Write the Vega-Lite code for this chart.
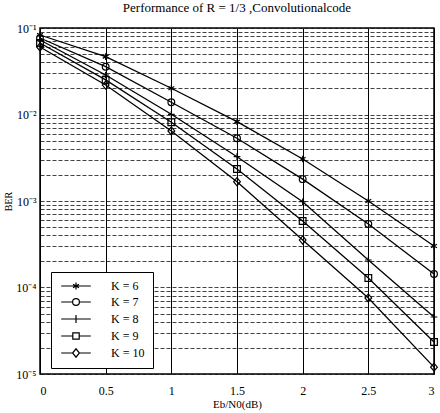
{
  "$schema": "https://vega.github.io/schema/vega-lite/v6.json",
  "width": 394,
  "height": 346,
  "autosize": {"type": "none"},
  "padding": {"left": 40, "top": 28, "right": 6, "bottom": 39},
  "background": "white",
  "config": {
    "view": {"stroke": "black", "strokeWidth": 1.5},
    "font": "Liberation Serif"
  },
  "title": {
    "text": "Performance of R = 1/3 ,Convolutionalcode",
    "fontSize": 13,
    "fontWeight": "normal",
    "font": "Liberation Serif",
    "color": "black",
    "offset": 7
  },
  "data": {
    "values": [
      {"ebn0": 0, "ber": 0.083, "code": "K = 6"},
      {"ebn0": 0.5, "ber": 0.0466, "code": "K = 6"},
      {"ebn0": 1, "ber": 0.0201, "code": "K = 6"},
      {"ebn0": 1.5, "ber": 0.00826, "code": "K = 6"},
      {"ebn0": 2, "ber": 0.00306, "code": "K = 6"},
      {"ebn0": 2.5, "ber": 0.001, "code": "K = 6"},
      {"ebn0": 3, "ber": 0.000302, "code": "K = 6"},
      {"ebn0": 0, "ber": 0.0766, "code": "K = 7"},
      {"ebn0": 0.5, "ber": 0.0357, "code": "K = 7"},
      {"ebn0": 1, "ber": 0.01384, "code": "K = 7"},
      {"ebn0": 1.5, "ber": 0.00531, "code": "K = 7"},
      {"ebn0": 2, "ber": 0.00179, "code": "K = 7"},
      {"ebn0": 2.5, "ber": 0.000542, "code": "K = 7"},
      {"ebn0": 3, "ber": 0.000143, "code": "K = 7"},
      {"ebn0": 0, "ber": 0.0727, "code": "K = 8"},
      {"ebn0": 0.5, "ber": 0.0286, "code": "K = 8"},
      {"ebn0": 1, "ber": 0.01005, "code": "K = 8"},
      {"ebn0": 1.5, "ber": 0.00325, "code": "K = 8"},
      {"ebn0": 2, "ber": 0.00098, "code": "K = 8"},
      {"ebn0": 2.5, "ber": 0.000208, "code": "K = 8"},
      {"ebn0": 3, "ber": 0.0000456, "code": "K = 8"},
      {"ebn0": 0, "ber": 0.0671, "code": "K = 9"},
      {"ebn0": 0.5, "ber": 0.0251, "code": "K = 9"},
      {"ebn0": 1, "ber": 0.00813, "code": "K = 9"},
      {"ebn0": 1.5, "ber": 0.00234, "code": "K = 9"},
      {"ebn0": 2, "ber": 0.000587, "code": "K = 9"},
      {"ebn0": 2.5, "ber": 0.000129, "code": "K = 9"},
      {"ebn0": 3, "ber": 0.0000234, "code": "K = 9"},
      {"ebn0": 0, "ber": 0.0603, "code": "K = 10"},
      {"ebn0": 0.5, "ber": 0.0219, "code": "K = 10"},
      {"ebn0": 1, "ber": 0.00645, "code": "K = 10"},
      {"ebn0": 1.5, "ber": 0.00167, "code": "K = 10"},
      {"ebn0": 2, "ber": 0.000354, "code": "K = 10"},
      {"ebn0": 2.5, "ber": 0.0000757, "code": "K = 10"},
      {"ebn0": 3, "ber": 0.000012, "code": "K = 10"}
    ]
  },
  "encoding": {
    "x": {
      "field": "ebn0",
      "type": "quantitative",
      "scale": {"domain": [0, 3], "nice": false, "zero": false},
      "axis": {
        "values": [0, 0.5, 1, 1.5, 2, 2.5, 3],
        "format": "~g",
        "grid": true,
        "gridColor": "black",
        "gridWidth": 1,
        "gridOpacity": 1,
        "domain": false,
        "ticks": false,
        "labelPadding": 11,
        "labelFontSize": 12,
        "labelColor": "black",
        "labelFont": "Liberation Serif",
        "title": "Eb/N0(dB)",
        "titleFont": "Liberation Serif",
        "titleFontSize": 11,
        "titleFontWeight": "normal",
        "titleColor": "black",
        "titlePadding": 2
      }
    },
    "y": {
      "field": "ber",
      "type": "quantitative",
      "scale": {"type": "log", "domain": [0.00001, 0.1], "nice": false},
      "axis": {
        "values": [0.00001, 0.00002, 0.00003, 0.00004, 0.00005, 0.00006, 0.00007, 0.00008, 0.00009, 0.0001, 0.0002, 0.0003, 0.0004, 0.0005, 0.0006, 0.0007, 0.0008, 0.0009, 0.001, 0.002, 0.003, 0.004, 0.005, 0.006, 0.007, 0.008, 0.009, 0.01, 0.02, 0.03, 0.04, 0.05, 0.06, 0.07, 0.08, 0.09, 0.1],
        "labelExpr": "datum.value > 0.095 ? '10⁻¹' : (abs(datum.value - 0.01) < 1e-9 ? '10⁻²' : (abs(datum.value - 0.001) < 1e-10 ? '10⁻³' : (abs(datum.value - 0.0001) < 1e-11 ? '10⁻⁴' : (abs(datum.value - 0.00001) < 1e-12 ? '10⁻⁵' : ''))))",
        "labelOverlap": false,
        "grid": true,
        "gridColor": "#111111",
        "gridDash": [4, 2],
        "gridWidth": 0.8,
        "gridOpacity": 1,
        "domain": false,
        "ticks": false,
        "labelPadding": 4,
        "labelFontSize": 12,
        "labelColor": "black",
        "labelFont": "Liberation Serif",
        "title": "BER",
        "titleFont": "Liberation Serif",
        "titleFontSize": 10,
        "titleFontWeight": "normal",
        "titleColor": "black",
        "titlePadding": 2
      }
    }
  },
  "layer": [
    {
      "mark": {"type": "line", "color": "black", "strokeWidth": 1.3},
      "encoding": {"detail": {"field": "code", "type": "nominal"}}
    },
    {
      "mark": {"type": "point", "color": "black", "filled": false, "size": 45, "strokeWidth": 1.2, "opacity": 1},
      "encoding": {
        "shape": {
          "field": "code",
          "type": "nominal",
          "scale": {
            "domain": ["K = 6", "K = 7", "K = 8", "K = 9", "K = 10"],
            "range": [
              "M0,-1V1M-0.87,-0.5L0.87,0.5M-0.87,0.5L0.87,-0.5",
              "circle",
              "M-1,0H1M0,-1V1",
              "square",
              "M-1,0L0,-1.2L1,0L0,1.2Z"
            ]
          },
          "legend": null
        }
      }
    },
    {
      "transform": [{"filter": "datum.ebn0 == 0"}],
      "mark": {"type": "point", "color": "black", "filled": false, "size": 64, "strokeWidth": 1.2, "opacity": 0},
      "encoding": {
        "shape": {
          "field": "code",
          "type": "nominal",
          "scale": {
            "domain": ["K = 6", "K = 7", "K = 8", "K = 9", "K = 10"],
            "range": [
              "M-3.7,0H3.7M0,-0.85V0.85M-0.74,-0.42L0.74,0.42M-0.74,0.42L0.74,-0.42",
              "M-3.7,0H-0.85M0.85,0H3.7M-0.85,0A0.85,0.85,0,1,1,0.85,0A0.85,0.85,0,1,1,-0.85,0",
              "M-3.7,0H3.7M0,-1V1",
              "M-3.7,0H-0.8M0.8,0H3.7M-0.8,-0.8H0.8V0.8H-0.8Z",
              "M-3.7,0H-0.85M0.85,0H3.7M-0.85,0L0,-1.05L0.85,0L0,1.05Z"
            ]
          },
          "legend": {
            "orient": "none",
            "legendX": 11,
            "legendY": 244,
            "title": null,
            "strokeColor": "black",
            "fillColor": "white",
            "padding": 8,
            "symbolOpacity": 1,
            "symbolStrokeColor": "black",
            "symbolStrokeWidth": 1.2,
            "symbolSize": 64,
            "symbolOffset": 11,
            "labelOffset": 29,
            "rowPadding": 4,
            "labelFont": "Liberation Serif",
            "labelFontSize": 12,
            "labelColor": "black"
          }
        }
      }
    }
  ],
  "resolve": {"scale": {"shape": "independent"}}
}
